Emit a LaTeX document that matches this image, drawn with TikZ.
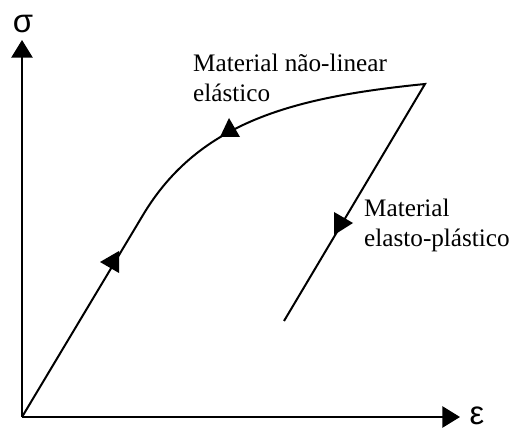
\documentclass[tikz,border=0pt]{standalone}
\usepackage{fontspec}
\setmainfont{Liberation Serif}
\newfontfamily\greekfont{Liberation Sans}
\usetikzlibrary{arrows.meta}

\begin{document}
\begin{tikzpicture}[x=0.03cm, y=-0.03cm,
    curve/.style={line width=1.7pt, line join=miter},
    axis/.style={line width=1.7pt, -{Triangle[length=15pt,width=18pt]}},
    tri/.style={fill=black},
    lbl/.style={anchor=north west, inner sep=0pt, align=left, font=\fontsize{21.5}{25.5}\selectfont},
    sym/.style={inner sep=0pt, font=\greekfont\fontsize{28}{30}\selectfont}
]
\useasboundingbox (0,0) rectangle (512,430);

% axes
\coordinate (O) at (22,417);
\coordinate (ytip) at (22,40);
\coordinate (xtip) at (460,417);
\draw[axis] (O) -- (ytip);
\draw[axis] (O) -- (xtip);
\node[sym] (sigma) at (23,24) {σ};
\node[sym] (eps) at (477,416) {ε};

% loading / unloading path
\coordinate (knee) at (143,215);
\coordinate (c1) at (199.5,120.6);
\coordinate (c2) at (295.6,97);
\coordinate (peak) at (425,84);
\coordinate (unload) at (284,321);
\draw[curve] (O) -- (knee) .. controls (c1) and (c2) .. (peak) -- (unload);

% direction marks
\fill[tri] (100,262) -- (119,251) -- (119,273) -- cycle;
\fill[tri] (229,118) -- (220,137) -- (240,137) -- cycle;
\fill[tri] (334,212) -- (353,223) -- (334,235) -- cycle;

% labels
\node[lbl] (nonlin) at (193,54) {Material não-linear\\elástico};
\node[lbl] (elpl) at (364,199) {Material\\elasto-plástico};
\end{tikzpicture}
\end{document}
